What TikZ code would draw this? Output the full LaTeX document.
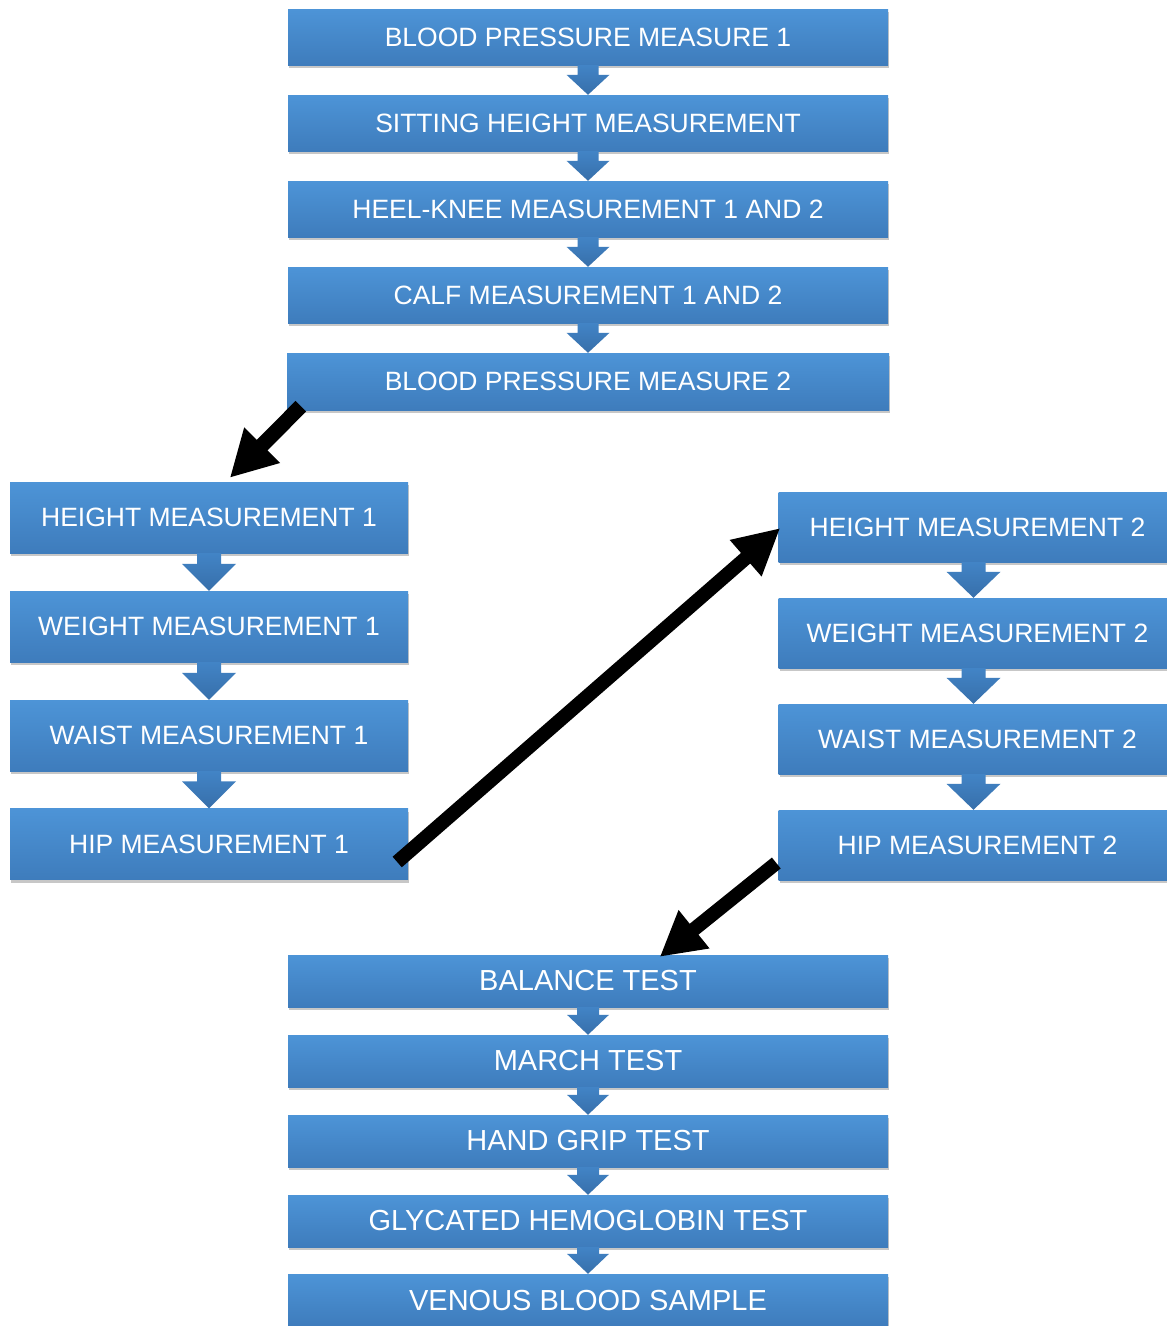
\documentclass[tikz,border=0pt]{standalone}
\usepackage{fontspec}
\setmainfont{Liberation Sans}
\usetikzlibrary{calc,shadows,arrows.meta}
\definecolor{boxtop}{RGB}{77,148,215}
\definecolor{boxbot}{RGB}{62,124,188}
\definecolor{chevtop}{RGB}{66,132,198}
\definecolor{chevbot}{RGB}{55,111,170}
\newcommand\mychev[6][0]{%
  \path[chev] ($(#2.south)+({#1-#4},0)$) -- ($(#2.south)+({#1+#4},0)$) -- ($(#3.north)+({#1+#4},-#6)$)
    -- ($(#3.north)+({#1+#5},-#6)$) -- ($(#3.north)+(#1,0)$) -- ($(#3.north)+({#1-#5},-#6)$)
    -- ($(#3.north)+({#1-#4},-#6)$) -- cycle;}
\begin{document}
\begin{tikzpicture}[x=1pt,y=-1pt,
  box/.style={rectangle, inner sep=0pt, draw=none, top color=boxtop, bottom color=boxbot, text=white,
    drop shadow={shadow xshift=1pt, shadow yshift=-3pt, opacity=0.22, fill=black}},
  topbox/.style={box, minimum width=600pt, minimum height=56pt, font=\fontsize{26.5}{30}\selectfont},
  sidebox/.style={box, minimum width=398pt, minimum height=71pt, font=\fontsize{26.5}{30}\selectfont},
  botbox/.style={box, minimum width=600pt, minimum height=52pt, font=\fontsize{29}{33}\selectfont},
  chev/.style={top color=chevtop, bottom color=chevbot, draw=none},
  bigarrow/.style={draw=black, line cap=butt}]
\useasboundingbox (0,0) rectangle (1167,1326);
\fill[white] (0,0) rectangle (1167,1326);

% top column
\node[topbox] (bp1) at (588,37) {BLOOD PRESSURE MEASURE 1};
\node[topbox] (sit) at (588,123) {SITTING HEIGHT MEASUREMENT};
\node[topbox] (heel) at (588,209) {HEEL-KNEE MEASUREMENT 1 AND 2};
\node[topbox] (calf) at (588,295) {CALF MEASUREMENT 1 AND 2};
\node[topbox, minimum width=602pt, minimum height=57pt] (bp2) at (588,381.5) {BLOOD PRESSURE MEASURE 2};

% left column
\node[sidebox] (h1) at (209,517.5) {HEIGHT MEASUREMENT 1};
\node[sidebox] (w1) at (209,626.5) {WEIGHT MEASUREMENT 1};
\node[sidebox] (wa1) at (209,735.5) {WAIST MEASUREMENT 1};
\node[sidebox] (hip1) at (209,844) {HIP MEASUREMENT 1};

% right column
\node[sidebox, minimum height=70pt] (h2) at (977.5,527) {HEIGHT MEASUREMENT 2};
\node[sidebox, minimum height=70pt] (w2) at (977.5,633) {WEIGHT MEASUREMENT 2};
\node[sidebox, minimum height=70pt] (wa2) at (977.5,739) {WAIST MEASUREMENT 2};
\node[sidebox, minimum height=70pt] (hip2) at (977.5,845) {HIP MEASUREMENT 2};

% bottom column
\node[botbox] (bal) at (588,981) {BALANCE TEST};
\node[botbox] (mar) at (588,1061) {MARCH TEST};
\node[botbox] (grip) at (588,1141) {HAND GRIP TEST};
\node[botbox] (gly) at (588,1221) {GLYCATED HEMOGLOBIN TEST};
\node[botbox] (ven) at (588,1300) {VENOUS BLOOD SAMPLE};

% chevrons
\mychev{bp1}{sit}{10.5}{21.5}{20}
\mychev{sit}{heel}{10.5}{21.5}{20}
\mychev{heel}{calf}{10.5}{21.5}{20}
\mychev{calf}{bp2}{10.5}{21.5}{20}
\mychev{h1}{w1}{12}{27}{27}
\mychev{w1}{wa1}{12}{27}{27}
\mychev{wa1}{hip1}{12}{27}{27}
\mychev[-4]{h2}{w2}{12}{27}{26}
\mychev[-4]{w2}{wa2}{12}{27}{26}
\mychev[-4]{wa2}{hip2}{12}{27}{26}
\mychev{bal}{mar}{11}{21}{20}
\mychev{mar}{grip}{11}{21}{20}
\mychev{grip}{gly}{11}{21}{20}
\mychev{gly}{ven}{11}{21}{20}

% big black arrows
\coordinate (a1s) at ($(bp2.south west)+(14,-4)$);
\coordinate (a1e) at ($(h1.north west)+(220,-4)$);
\coordinate (a2s) at ($(hip1.east)+(-11,18)$);
\coordinate (a2e) at ($(h2.west)+(2,1)$);
\coordinate (a3s) at ($(hip2.west)+(-2,18)$);
\coordinate (a3e) at ($(bal.north west)+(372,2)$);
\draw[bigarrow, line width=15pt, -{Triangle[length=46pt,width=47pt]}] (a1s) -- (a1e);
\draw[bigarrow, line width=14pt, -{Triangle[length=46pt,width=45pt]}] (a2s) -- (a2e);
\draw[bigarrow, line width=14pt, -{Triangle[length=44pt,width=46pt]}] (a3s) -- (a3e);
\end{tikzpicture}
\end{document}
